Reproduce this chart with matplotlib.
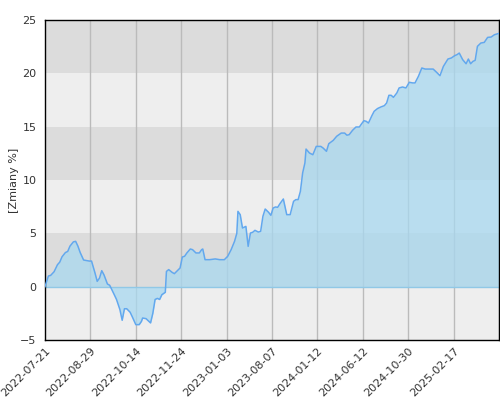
import numpy as np
import matplotlib
matplotlib.use("Agg")
import matplotlib.pyplot as plt

# observation number (about 40 per date tick) and change in %
obs = [0, 3, 5, 8, 11, 13, 15, 18, 20, 22, 25, 27, 29, 31, 34, 39, 41, 44, 46, 48,
       50, 52, 55, 57, 59, 61, 63, 66, 68, 70, 72, 75, 77, 80, 83, 85, 86, 89, 93, 95,
       97, 99, 101, 103, 106, 107, 109, 112, 114, 117, 119, 121, 123, 125, 128, 130, 133, 136, 138, 139,
       141, 145, 150, 154, 158, 161, 164, 167, 169, 170, 172, 174, 177, 179, 181, 183, 185, 188, 190, 192,
       194, 197, 199, 201, 203, 205, 207, 210, 213, 216, 219, 221, 223, 225, 227, 229, 230, 233, 236, 239,
       243, 245, 248, 250, 254, 257, 261, 264, 266, 268, 271, 274, 277, 279, 281, 283, 285, 288, 290, 293,
       296, 299, 301, 303, 305, 307, 310, 312, 315, 318, 321, 324, 326, 329, 332, 335, 339, 342, 345, 348,
       351, 355, 358, 361, 363, 365, 368, 371, 373, 375, 377, 379, 381, 384, 387, 390, 393, 396, 399, 400]
zmiana = [0.0, 1.0, 1.06, 1.4, 2.06, 2.3, 2.8, 3.2, 3.3, 3.8, 4.2, 4.25, 3.8, 3.2, 2.5, 2.4, 2.4, 1.3, 0.5, 0.8,
          1.5, 1.1, 0.25, 0.13, -0.3, -0.75, -1.2, -2.15, -3.15, -2.07, -2.07, -2.4, -2.85, -3.56, -3.56, -3.25, -2.94, -3.0, -3.4, -2.5,
          -1.2, -1.1, -1.2, -0.75, -0.53, 1.43, 1.6, 1.34, 1.22, 1.53, 1.75, 2.78, 2.85, 3.16, 3.53, 3.47, 3.16, 3.16, 3.47, 3.53,
          2.53, 2.53, 2.6, 2.53, 2.53, 2.85, 3.47, 4.25, 5.0, 7.06, 6.75, 5.5, 5.65, 3.78, 5.03, 5.1, 5.28, 5.12, 5.19, 6.6,
          7.28, 6.97, 6.69, 7.37, 7.47, 7.44, 7.78, 8.22, 6.75, 6.75, 8.0, 8.16, 8.16, 8.93, 10.66, 11.6, 12.9, 12.53, 12.37, 13.15,
          13.15, 13.0, 12.69, 13.4, 13.72, 14.1, 14.4, 14.4, 14.2, 14.25, 14.66, 14.97, 14.97, 15.28, 15.56, 15.5, 15.34, 16.03, 16.44, 16.7,
          16.85, 16.97, 17.22, 17.94, 17.94, 17.75, 18.16, 18.63, 18.72, 18.63, 19.16, 19.1, 19.1, 19.72, 20.5, 20.4, 20.4, 20.4, 20.1, 19.78,
          20.65, 21.34, 21.44, 21.66, 21.75, 21.9, 21.28, 20.9, 21.34, 20.9, 21.12, 21.22, 22.53, 22.84, 22.9, 23.37, 23.4, 23.62, 23.72, 23.75]

daty = ['2022-07-21', '2022-08-29', '2022-10-14', '2022-11-24', '2023-01-03',
        '2023-08-07', '2024-01-12', '2024-06-12', '2024-10-30', '2025-02-17']
krok = 40

x = np.array(obs)
y = np.array(zmiana)

fig = plt.figure(figsize=(5, 4), dpi=100)
ax = fig.add_axes([0.09, 0.15, 0.908, 0.80])

# poziome pasy tla
for i, dol in enumerate(range(-5, 25, 5)):
    kolor = '#eeeeee' if i % 2 == 0 else '#dcdcdc'
    ax.axhspan(dol, dol + 5, color=kolor, lw=0, zorder=0)

for k in range(1, len(daty) + 1):
    ax.axvline(k * krok, color='#bbbbbb', lw=1, zorder=1)

ax.fill_between(x, y, 0, color='#a8d8f0', alpha=0.75, lw=0, zorder=2)
ax.axhline(0, color='#90c8e6', lw=1, zorder=2)
ax.plot(x, y, color='#62a8ee', lw=1.1, zorder=3)

ax.set_xlim(0, krok * len(daty))
ax.set_ylim(-5, 25)
ax.set_yticks(range(-5, 26, 5))
ax.set_xticks([k * krok for k in range(len(daty))])
ax.set_xticklabels(daty, rotation=45, ha='right', rotation_mode='anchor')
ax.tick_params(length=0, labelsize=8, colors='#333333', pad=6)
ax.tick_params(axis='x', pad=4)
for s in ax.spines.values():
    s.set_color('black')
    s.set_linewidth(1)
ax.set_ylabel('[Zmiany %]', fontsize=8, color='#333333', labelpad=1)

fig.savefig('out.png')
